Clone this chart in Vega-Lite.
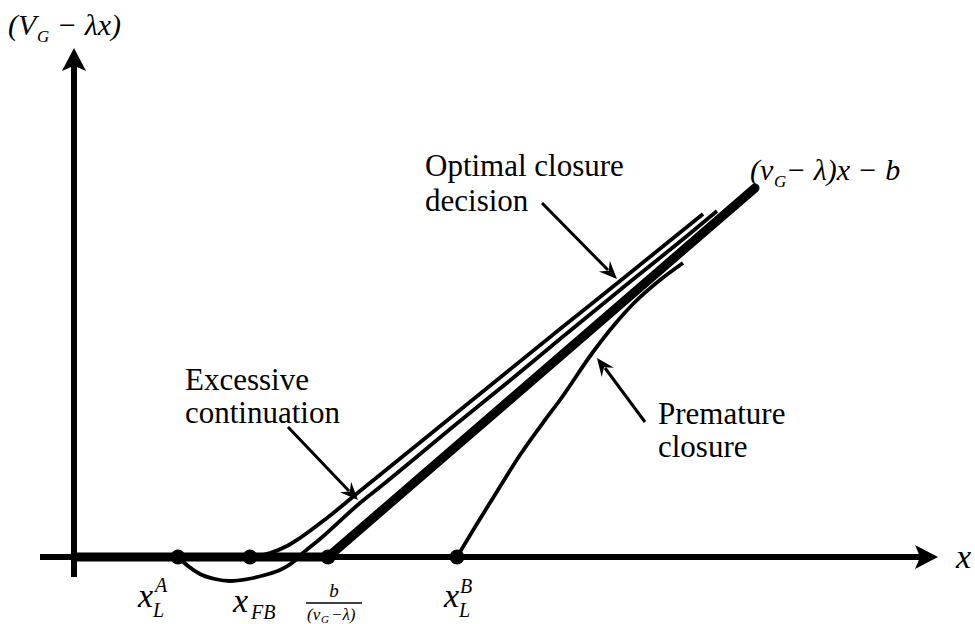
{
  "$schema": "https://vega.github.io/schema/vega-lite/v6.json",
  "width": 975,
  "height": 624,
  "autosize": {"type": "none"},
  "padding": 0,
  "background": "white",
  "config": {"view": {"stroke": null}, "text": {"font": "Liberation Serif"}},
  "datasets": {
    "lines": [
      {"s": "base", "i": 0, "x": 0, "y": 0},
      {"s": "base", "i": 1, "x": 254, "y": 0},
      {"s": "base", "i": 2, "x": 681, "y": 369},
      {"s": "optimal", "i": 0, "x": 176, "y": 0},
      {"s": "optimal", "i": 1, "x": 196, "y": 4},
      {"s": "optimal", "i": 2, "x": 213, "y": 11},
      {"s": "optimal", "i": 3, "x": 226, "y": 19},
      {"s": "optimal", "i": 4, "x": 253, "y": 39},
      {"s": "optimal", "i": 5, "x": 286, "y": 66},
      {"s": "optimal", "i": 6, "x": 386, "y": 147},
      {"s": "optimal", "i": 7, "x": 486, "y": 228},
      {"s": "optimal", "i": 8, "x": 546, "y": 276},
      {"s": "optimal", "i": 9, "x": 629, "y": 343},
      {"s": "excessive", "i": 0, "x": 104, "y": 0},
      {"s": "excessive", "i": 1, "x": 114, "y": -9},
      {"s": "excessive", "i": 2, "x": 126, "y": -17},
      {"s": "excessive", "i": 3, "x": 141, "y": -22},
      {"s": "excessive", "i": 4, "x": 156, "y": -24},
      {"s": "excessive", "i": 5, "x": 174, "y": -22},
      {"s": "excessive", "i": 6, "x": 191, "y": -18},
      {"s": "excessive", "i": 7, "x": 206, "y": -13},
      {"s": "excessive", "i": 8, "x": 218, "y": -6},
      {"s": "excessive", "i": 9, "x": 229, "y": 4},
      {"s": "excessive", "i": 10, "x": 246, "y": 18},
      {"s": "excessive", "i": 11, "x": 286, "y": 54},
      {"s": "excessive", "i": 12, "x": 306, "y": 70},
      {"s": "excessive", "i": 13, "x": 386, "y": 136},
      {"s": "excessive", "i": 14, "x": 439, "y": 179},
      {"s": "excessive", "i": 15, "x": 486, "y": 218},
      {"s": "excessive", "i": 16, "x": 546, "y": 267},
      {"s": "excessive", "i": 17, "x": 619, "y": 326},
      {"s": "excessive", "i": 18, "x": 643, "y": 346},
      {"s": "premature", "i": 0, "x": 383, "y": 0},
      {"s": "premature", "i": 1, "x": 401, "y": 30},
      {"s": "premature", "i": 2, "x": 419, "y": 59},
      {"s": "premature", "i": 3, "x": 446, "y": 102},
      {"s": "premature", "i": 4, "x": 471, "y": 137},
      {"s": "premature", "i": 5, "x": 486, "y": 157},
      {"s": "premature", "i": 6, "x": 519, "y": 205},
      {"s": "premature", "i": 7, "x": 541, "y": 233},
      {"s": "premature", "i": 8, "x": 559, "y": 253},
      {"s": "premature", "i": 9, "x": 586, "y": 277},
      {"s": "premature", "i": 10, "x": 609, "y": 294},
      {"s": "xaxis", "i": 0, "x": -34, "y": 0},
      {"s": "xaxis", "i": 1, "x": 852, "y": 0},
      {"s": "yaxis", "i": 0, "x": 0, "y": -20},
      {"s": "yaxis", "i": 1, "x": 0, "y": 495},
      {"s": "arrowOpt", "i": 0, "x": 468, "y": 354},
      {"s": "arrowOpt", "i": 1, "x": 534, "y": 287},
      {"s": "arrowExc", "i": 0, "x": 214, "y": 130},
      {"s": "arrowExc", "i": 1, "x": 275, "y": 66},
      {"s": "arrowPre", "i": 0, "x": 571, "y": 135},
      {"s": "arrowPre", "i": 1, "x": 531, "y": 189},
      {"s": "fracbar", "i": 0, "x": 232, "y": -46},
      {"s": "fracbar", "i": 1, "x": 288, "y": -46}
    ],
    "dots": [
      {"name": "xLA", "x": 104, "y": 0},
      {"name": "xFB", "x": 176, "y": 0},
      {"name": "b", "x": 254, "y": 0},
      {"name": "xLB", "x": 383, "y": 0}
    ],
    "heads": [
      {"name": "xaxis", "x": 864, "y": 0},
      {"name": "yaxis", "x": 0, "y": 509},
      {"name": "opt", "x": 543, "y": 278},
      {"name": "exc", "x": 284, "y": 57},
      {"name": "pre", "x": 523, "y": 199}
    ],
    "labels": [
      {"kind": "plain", "t": "Optimal closure", "x": 351, "y": 381},
      {"kind": "plain", "t": "decision", "x": 351, "y": 346},
      {"kind": "plain", "t": "Excessive", "x": 111, "y": 167},
      {"kind": "plain", "t": "continuation", "x": 111, "y": 134},
      {"kind": "plain", "t": "Premature", "x": 584, "y": 133},
      {"kind": "plain", "t": "closure", "x": 584, "y": 100},
      {"kind": "main", "t": "(V", "x": -66, "y": 522},
      {"kind": "main", "t": "− λx)", "x": -17, "y": 522},
      {"kind": "main", "t": "(v", "x": 676, "y": 377},
      {"kind": "main", "t": "− λ)x − b", "x": 712, "y": 377},
      {"kind": "sub", "t": "G", "x": -37, "y": 515},
      {"kind": "sub", "t": "G", "x": 700, "y": 370},
      {"kind": "big", "t": "x", "x": 64, "y": -50},
      {"kind": "big", "t": "x", "x": 159, "y": -55},
      {"kind": "big", "t": "x", "x": 370, "y": -50},
      {"kind": "big", "t": "x", "x": 882, "y": -11},
      {"kind": "script", "t": "A", "x": 81, "y": -35},
      {"kind": "script", "t": "L", "x": 79, "y": -60},
      {"kind": "script", "t": "FB", "x": 177, "y": -62},
      {"kind": "script", "t": "B", "x": 386, "y": -36},
      {"kind": "script", "t": "L", "x": 385, "y": -60},
      {"kind": "num", "t": "b", "x": 260, "y": -40},
      {"kind": "den", "t": "(v", "x": 233, "y": -63},
      {"kind": "den", "t": "−λ)", "x": 257, "y": -63},
      {"kind": "tiny", "t": "G", "x": 247, "y": -66}
    ]
  },
  "encoding": {
    "x": {"field": "x", "type": "quantitative", "scale": {"domain": [-74, 901], "nice": false, "zero": false}, "axis": null},
    "y": {"field": "y", "type": "quantitative", "scale": {"domain": [-67, 557], "nice": false, "zero": false}, "axis": null}
  },
  "layer": [
    {
      "data": {"name": "lines"},
      "transform": [{"filter": "datum.s === 'optimal' || datum.s === 'excessive' || datum.s === 'premature'"}],
      "mark": {"type": "line", "interpolate": "monotone", "color": "black", "strokeWidth": 3.8},
      "encoding": {"detail": {"field": "s"}, "order": {"field": "i", "type": "quantitative"}}
    },
    {
      "data": {"name": "lines"},
      "transform": [{"filter": "datum.s === 'xaxis' || datum.s === 'yaxis'"}],
      "mark": {"type": "line", "color": "black", "strokeWidth": 6},
      "encoding": {"detail": {"field": "s"}, "order": {"field": "i", "type": "quantitative"}}
    },
    {
      "data": {"name": "lines"},
      "transform": [{"filter": "datum.s === 'base'"}],
      "mark": {"type": "line", "color": "black", "strokeWidth": 9, "strokeCap": "round", "strokeJoin": "round"},
      "encoding": {"detail": {"field": "s"}, "order": {"field": "i", "type": "quantitative"}}
    },
    {
      "data": {"name": "lines"},
      "transform": [{"filter": "datum.s === 'arrowOpt' || datum.s === 'arrowExc' || datum.s === 'arrowPre'"}],
      "mark": {"type": "line", "color": "black", "strokeWidth": 3},
      "encoding": {"detail": {"field": "s"}, "order": {"field": "i", "type": "quantitative"}}
    },
    {
      "data": {"name": "lines"},
      "transform": [{"filter": "datum.s === 'fracbar'"}],
      "mark": {"type": "line", "color": "black", "strokeWidth": 1.5},
      "encoding": {"detail": {"field": "s"}, "order": {"field": "i", "type": "quantitative"}}
    },
    {
      "data": {"name": "dots"},
      "mark": {"type": "point", "filled": true, "size": 220, "color": "black", "opacity": 1}
    },
    {
      "data": {"name": "heads"},
      "transform": [{"filter": "datum.name === 'xaxis'"}],
      "mark": {"type": "point", "shape": "M0,0 L-2,-1.05 L-1.55,0 L-2,1.05 Z", "filled": true, "size": 529, "angle": 0, "color": "black", "opacity": 1, "strokeWidth": 0}
    },
    {
      "data": {"name": "heads"},
      "transform": [{"filter": "datum.name === 'yaxis'"}],
      "mark": {"type": "point", "shape": "M0,0 L-2,-1.05 L-1.55,0 L-2,1.05 Z", "filled": true, "size": 529, "angle": 270, "color": "black", "opacity": 1, "strokeWidth": 0}
    },
    {
      "data": {"name": "heads"},
      "transform": [{"filter": "datum.name === 'opt'"}],
      "mark": {"type": "point", "shape": "M0,0 L-2,-0.85 L-1.3,0 L-2,0.85 Z", "filled": true, "size": 324, "angle": 45.4, "color": "black", "opacity": 1, "strokeWidth": 0}
    },
    {
      "data": {"name": "heads"},
      "transform": [{"filter": "datum.name === 'exc'"}],
      "mark": {"type": "point", "shape": "M0,0 L-2,-0.85 L-1.3,0 L-2,0.85 Z", "filled": true, "size": 324, "angle": 46.2, "color": "black", "opacity": 1, "strokeWidth": 0}
    },
    {
      "data": {"name": "heads"},
      "transform": [{"filter": "datum.name === 'pre'"}],
      "mark": {"type": "point", "shape": "M0,0 L-2,-0.85 L-1.3,0 L-2,0.85 Z", "filled": true, "size": 324, "angle": 233.1, "color": "black", "opacity": 1, "strokeWidth": 0}
    },
    {
      "data": {"name": "labels"},
      "transform": [{"filter": "datum.kind === 'plain'"}],
      "mark": {"type": "text", "font": "Liberation Serif", "fontSize": 31, "align": "left", "baseline": "alphabetic", "color": "black"},
      "encoding": {"text": {"field": "t"}}
    },
    {
      "data": {"name": "labels"},
      "transform": [{"filter": "datum.kind === 'main'"}],
      "mark": {"type": "text", "font": "Liberation Serif", "fontStyle": "italic", "fontSize": 30, "align": "left", "baseline": "alphabetic", "color": "black"},
      "encoding": {"text": {"field": "t"}}
    },
    {
      "data": {"name": "labels"},
      "transform": [{"filter": "datum.kind === 'sub'"}],
      "mark": {"type": "text", "font": "Liberation Serif", "fontStyle": "italic", "fontSize": 17, "align": "left", "baseline": "alphabetic", "color": "black"},
      "encoding": {"text": {"field": "t"}}
    },
    {
      "data": {"name": "labels"},
      "transform": [{"filter": "datum.kind === 'big'"}],
      "mark": {"type": "text", "font": "Liberation Serif", "fontStyle": "italic", "fontSize": 34, "align": "left", "baseline": "alphabetic", "color": "black"},
      "encoding": {"text": {"field": "t"}}
    },
    {
      "data": {"name": "labels"},
      "transform": [{"filter": "datum.kind === 'script'"}],
      "mark": {"type": "text", "font": "Liberation Serif", "fontStyle": "italic", "fontSize": 20, "align": "left", "baseline": "alphabetic", "color": "black"},
      "encoding": {"text": {"field": "t"}}
    },
    {
      "data": {"name": "labels"},
      "transform": [{"filter": "datum.kind === 'num'"}],
      "mark": {"type": "text", "font": "Liberation Serif", "fontStyle": "italic", "fontSize": 19, "align": "center", "baseline": "alphabetic", "color": "black"},
      "encoding": {"text": {"field": "t"}}
    },
    {
      "data": {"name": "labels"},
      "transform": [{"filter": "datum.kind === 'den'"}],
      "mark": {"type": "text", "font": "Liberation Serif", "fontStyle": "italic", "fontSize": 17, "align": "left", "baseline": "alphabetic", "color": "black"},
      "encoding": {"text": {"field": "t"}}
    },
    {
      "data": {"name": "labels"},
      "transform": [{"filter": "datum.kind === 'tiny'"}],
      "mark": {"type": "text", "font": "Liberation Serif", "fontStyle": "italic", "fontSize": 11, "align": "left", "baseline": "alphabetic", "color": "black"},
      "encoding": {"text": {"field": "t"}}
    }
  ]
}
